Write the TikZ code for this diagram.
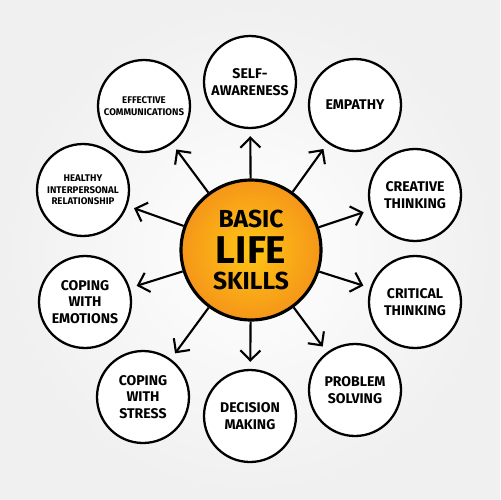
\documentclass[tikz,border=0pt]{standalone}
\usepackage{fontspec}
\setmainfont{Fira Sans}
\usepackage{tikz}
\usetikzlibrary{arrows.meta}
\definecolor{hubin}{RGB}{255,198,20}
\definecolor{hubout}{RGB}{245,150,25}
\tikzstyle{skill} = [circle,draw=black,line width=1.3pt,fill=white,minimum size=1.84cm,inner sep=0pt,align=center,font=\bfseries\fontsize{8}{9.4}\selectfont]
\tikzstyle{hub} = [circle,draw=black,line width=1.8pt,minimum size=2.8cm,inner sep=0pt,align=center,inner color=hubin,outer color=hubout,font=\bfseries]
\tikzstyle{arrow} = [line width=1.2pt,-{Straight Barb[length=2mm,width=4mm]},shorten >=4pt]

\begin{document}
\begin{tikzpicture}[x=0.02cm,y=-0.02cm]
  \shade[inner color=white,outer color=black!6] (0,0) rectangle (500,500);
  \useasboundingbox (0,0) rectangle (500,500);

  \node[hub] (hub) at (251,250) {{\fontsize{14}{15}\selectfont BASIC}\\[4pt]{\fontsize{22}{20}\selectfont LIFE}\\[3pt]{\fontsize{14}{15}\selectfont SKILLS}};

  \node[skill] (self) at (250,82) {SELF-\\AWARENESS};
  \node[skill] (empathy) at (355,105) {EMPATHY};
  \node[skill] (creative) at (415,195) {CREATIVE\\THINKING};
  \node[skill] (critical) at (415,302) {CRITICAL\\THINKING};
  \node[skill] (problem) at (355,390) {PROBLEM\\SOLVING};
  \node[skill] (decision) at (250,416) {DECISION\\MAKING};
  \node[skill] (stress) at (143,397) {COPING\\WITH\\STRESS};
  \node[skill] (emotions) at (85,302) {COPING\\WITH\\EMOTIONS};
  \node[skill,font=\bfseries\fontsize{5.5}{6.6}\selectfont] (healthy) at (83,190) {HEALTHY\\INTERPERSONAL\\RELATIONSHIP};
  \node[skill,font=\bfseries\fontsize{5.5}{6.6}\selectfont] (effective) at (144,106) {EFFECTIVE\\COMMUNICATIONS};

  \foreach \n in {self,empathy,creative,critical,problem,decision,stress,emotions,healthy,effective}
    \draw[arrow] (hub) -- (\n);
\end{tikzpicture}
\end{document}
